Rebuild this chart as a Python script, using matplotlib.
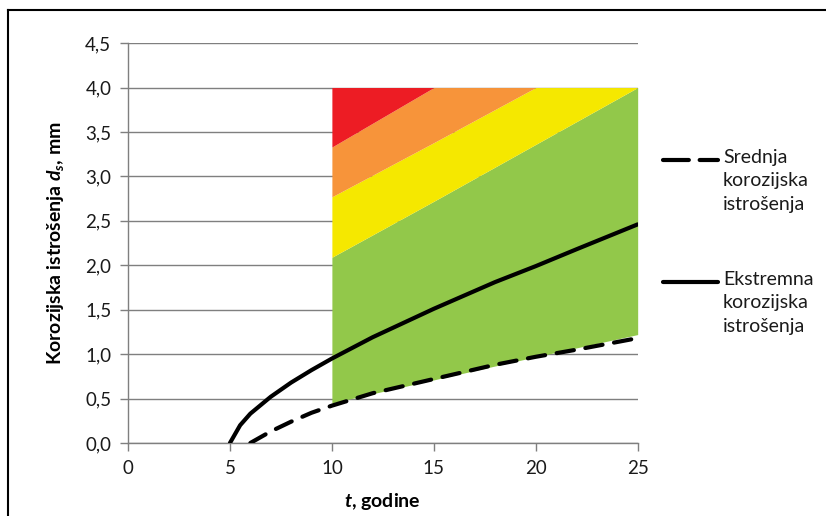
import numpy as np
import matplotlib
matplotlib.use("Agg")
import matplotlib.pyplot as plt
from matplotlib.lines import Line2D
from matplotlib.ticker import FuncFormatter

plt.rcParams['font.family'] = ['Lato', 'DejaVu Sans']
plt.rcParams['mathtext.fontset'] = 'custom'
plt.rcParams['mathtext.it'] = 'Lato:italic:bold'
plt.rcParams['mathtext.rm'] = 'Lato:bold'
plt.rcParams['mathtext.bf'] = 'Lato:bold'

# srednja (mean) corrosion
t_mean = [6, 7, 8, 9, 10, 12, 15, 18, 20, 22, 25]
d_mean = [0.0, 0.13, 0.24, 0.34, 0.42, 0.56, 0.72, 0.88, 0.97, 1.05, 1.18]

# ekstremna (extreme) corrosion
t_ext = [5, 5.5, 6, 7, 8, 9, 10, 12, 15, 18, 20, 22, 25]
d_ext = [0.0, 0.2, 0.33, 0.52, 0.68, 0.82, 0.95, 1.19, 1.51, 1.81, 1.99, 2.18, 2.46]

labels = ['Srednja\nkorozijska\nistrošenja', 'Ekstremna\nkorozijska\nistrošenja']

# colour bands (10 - 25 years), capped at 4.0 mm
t_band = [10, 15, 20, 25]
green_low = [0.45, 0.71, 0.97, 1.22]
green_high = [2.09, 2.72, 3.36, 4.0]
yellow_high = [2.77, 3.38, 4.0, 4.62]
orange_high = [3.33, 4.0, 4.67, 5.34]
band_top = 4.0

fig = plt.figure(figsize=(8.26, 5.16), dpi=100)
ax = fig.add_axes([0.155, 0.1415, 0.617, 0.775])

tb = np.array(t_band)
gl = np.minimum(green_low, band_top)
gh = np.minimum(green_high, band_top)
yh = np.minimum(yellow_high, band_top)
oh = np.minimum(orange_high, band_top)
top = np.full(len(tb), band_top)

ax.fill_between(tb, gl, gh, color='#92c84a', lw=0, zorder=2)
ax.fill_between(tb, gh, yh, color='#f5e800', lw=0, zorder=2)
ax.fill_between(tb, yh, oh, color='#f7943a', lw=0, zorder=2)
ax.fill_between(tb, oh, top, color='#ed1c24', lw=0, zorder=2)

dash = (0, (4.2, 2.8))
ax.plot(t_mean, d_mean, color='black', lw=3.0, linestyle=dash,
        dash_capstyle='round', zorder=4)
ax.plot(t_ext, d_ext, color='black', lw=3.0, solid_capstyle='round', zorder=4)

ax.set_xlim(0, 25)
ax.set_ylim(0, 4.5)
ax.set_xticks(range(0, 26, 5))
ax.set_yticks(np.arange(0, 4.51, 0.5))
ax.yaxis.set_major_formatter(FuncFormatter(lambda v, p: f"{v:.1f}".replace('.', ',')))
ax.grid(axis='y', color='#7f7f7f', lw=1.0, zorder=1)
ax.set_axisbelow(True)
for s in ['top', 'right']:
    ax.spines[s].set_visible(False)
for s in ['left', 'bottom']:
    ax.spines[s].set_color('#7f7f7f')
    ax.spines[s].set_linewidth(1.0)
ax.tick_params(axis='both', direction='out', length=6, width=1.0, color='#7f7f7f',
               labelsize=13.5, labelcolor='#1a1a1a', pad=6)

ax.set_ylabel(r'Korozijska istrošenja $d_s$, mm', fontsize=14, fontweight='bold', labelpad=14)
ax.set_xlabel(r'$t$, godine', fontsize=14, fontweight='bold', labelpad=10)

# legend drawn by hand: handle aligned with first text line
W, H = 826, 516
leg_y = [160, 282]
leg_styles = [(0, (6.2, 2.6)), '-']
for yy, ls, lab in zip(leg_y, leg_styles, labels):
    fig.add_artist(Line2D([663 / W, 718 / W], [1 - yy / H, 1 - yy / H], color='black',
                          lw=3.0, linestyle=ls, dash_capstyle='round', solid_capstyle='round'))
    fig.text(723 / W, 1 - (yy - 11) / H, lab, fontsize=14, va='top', ha='left',
             linespacing=1.45, color='#1a1a1a')

# outer frame
fig.add_artist(Line2D([8 / W, 8 / W], [0, 1 - 10 / H], color='black', lw=1.5))
fig.add_artist(Line2D([8 / W, 1], [1 - 10 / H, 1 - 10 / H], color='black', lw=1.5))

fig.savefig('out.png', dpi=100)
